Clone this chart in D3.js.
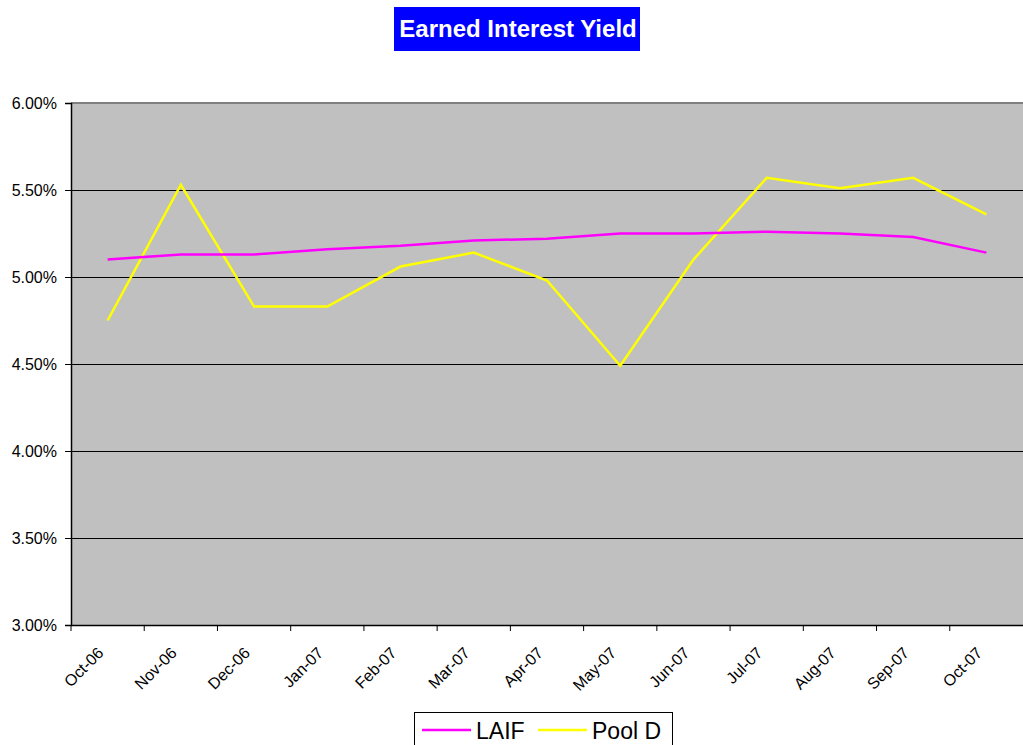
<!DOCTYPE html>
<html>
<head>
<meta charset="utf-8">
<script src="https://cdn.jsdelivr.net/npm/d3@7"></script>
<style>
  body { margin: 0; background: #fff; }
  svg { display: block; font-family: Arial, "Liberation Sans", sans-serif; }
</style>
</head>
<body>
<div id="chart"></div>
<script>
const months = ["Oct-06", "Nov-06", "Dec-06", "Jan-07", "Feb-07", "Mar-07", "Apr-07",
  "May-07", "Jun-07", "Jul-07", "Aug-07", "Sep-07", "Oct-07"];
const laif = [5.10, 5.13, 5.13, 5.16, 5.18, 5.21, 5.22, 5.25, 5.25, 5.26, 5.25, 5.23, 5.14];
const poolD = [4.75, 5.53, 4.83, 4.83, 5.06, 5.14, 4.98, 4.49, 5.10, 5.57, 5.51, 5.57, 5.36];
const yTicks = [3.0, 3.5, 4.0, 4.5, 5.0, 5.5, 6.0];

const width = 1023;
const height = 745;
const plot = { left: 71, right: 1023, top: 103, bottom: 625 };

const svg = d3.select("#chart")
  .append("svg")
  .attr("width", width)
  .attr("height", height);

const x = d3.scaleBand()
  .domain(months)
  .range([plot.left, plot.right]);

const y = d3.scaleLinear()
  .domain([3, 6])
  .range([plot.bottom, plot.top]);

// plot background
svg.append("rect")
  .attr("x", plot.left)
  .attr("y", plot.top)
  .attr("width", plot.right - plot.left)
  .attr("height", plot.bottom - plot.top)
  .attr("fill", "#c0c0c0");

// gridlines
svg.append("g")
  .selectAll("line")
  .data(yTicks.filter((d) => d > 3 && d < 6))
  .join("line")
  .attr("x1", plot.left)
  .attr("x2", plot.right)
  .attr("y1", (d) => y(d) + 0.5)
  .attr("y2", (d) => y(d) + 0.5)
  .attr("stroke", "#000")
  .attr("stroke-width", 1);

// top border
svg.append("line")
  .attr("x1", plot.left)
  .attr("x2", plot.right)
  .attr("y1", plot.top)
  .attr("y2", plot.top)
  .attr("stroke", "#808080")
  .attr("stroke-width", 2);

// y axis
const yAxis = svg.append("g")
  .attr("transform", `translate(${plot.left},0)`)
  .call(d3.axisLeft(y).tickValues(yTicks).tickSize(6).tickPadding(8)
    .tickFormat((d) => d.toFixed(2) + "%"));
yAxis.select(".domain").attr("stroke", "#000").attr("stroke-width", 1.5);
yAxis.selectAll(".tick line").attr("stroke", "#000");
yAxis.selectAll("text")
  .attr("font-size", 16)
  .attr("font-family", "Arial, 'Liberation Sans', sans-serif")
  .attr("fill", "#000");

// x axis
const xAxis = svg.append("g")
  .attr("transform", `translate(0,${plot.bottom})`)
  .call(d3.axisBottom(x).tickSize(0).tickFormat(""));
xAxis.select(".domain").attr("stroke", "#000").attr("stroke-width", 1.5);

// tick marks at band boundaries
svg.append("g")
  .selectAll("line")
  .data(months)
  .join("line")
  .attr("x1", (d) => x(d))
  .attr("x2", (d) => x(d))
  .attr("y1", plot.bottom)
  .attr("y2", plot.bottom + 6)
  .attr("stroke", "#000");

svg.append("g")
  .selectAll("text")
  .data(months)
  .join("text")
  .attr("transform", (d) => `translate(${x(d) + x.bandwidth() / 2 - 7},${plot.bottom + 25}) rotate(-45)`)
  .attr("text-anchor", "end")
  .attr("dy", "0.35em")
  .attr("font-size", 16)
  .attr("fill", "#000")
  .text((d) => d);

// series
const line = d3.line()
  .x((d, i) => x(months[i]) + x.bandwidth() / 2)
  .y((d) => y(d));

svg.append("path")
  .datum(poolD)
  .attr("d", line)
  .attr("fill", "none")
  .attr("stroke", "#ffff00")
  .attr("stroke-width", 2.5);

svg.append("path")
  .datum(laif)
  .attr("d", line)
  .attr("fill", "none")
  .attr("stroke", "#ff00ff")
  .attr("stroke-width", 2.5);

// title
svg.append("rect")
  .attr("x", 394)
  .attr("y", 7)
  .attr("width", 246)
  .attr("height", 44)
  .attr("fill", "#0000ff");

svg.append("text")
  .attr("x", 518)
  .attr("y", 29)
  .attr("dy", "0.35em")
  .attr("text-anchor", "middle")
  .attr("font-size", 24)
  .attr("font-weight", "bold")
  .attr("fill", "#fff")
  .text("Earned Interest Yield");

// legend
const legend = svg.append("g");
legend.append("rect")
  .attr("x", 414.5)
  .attr("y", 712.5)
  .attr("width", 258)
  .attr("height", 40)
  .attr("fill", "#fff")
  .attr("stroke", "#000");

const legendItems = [
  { name: "LAIF", color: "#ff00ff", x: 422 },
  { name: "Pool D", color: "#ffff00", x: 538 }
];
legendItems.forEach((item) => {
  legend.append("line")
    .attr("x1", item.x)
    .attr("x2", item.x + 49)
    .attr("y1", 730)
    .attr("y2", 730)
    .attr("stroke", item.color)
    .attr("stroke-width", 2.5);
  legend.append("text")
    .attr("x", item.x + 54)
    .attr("y", 731)
    .attr("dy", "0.35em")
    .attr("font-size", 23)
    .attr("fill", "#000")
    .text(item.name);
});
</script>
</body>
</html>
